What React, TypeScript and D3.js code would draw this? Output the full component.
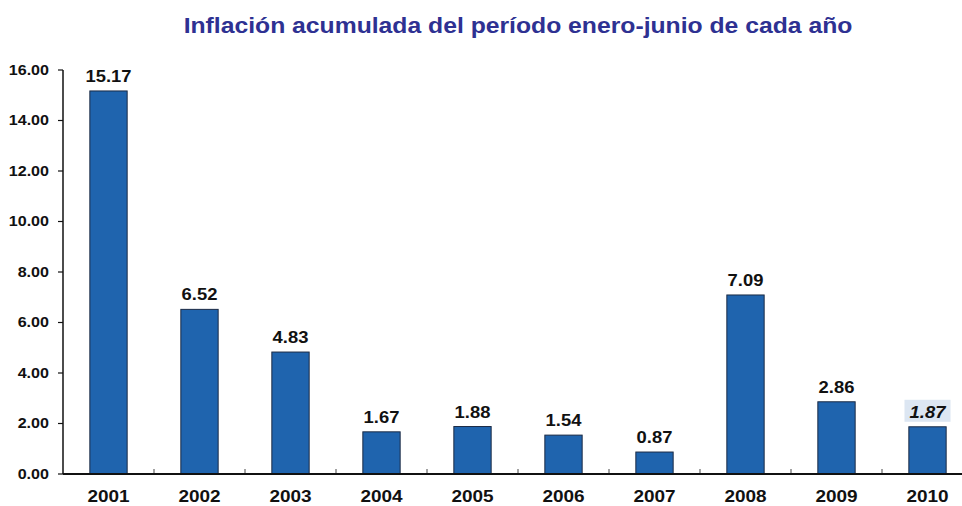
import React from "react";
import * as d3 from "d3";

const categories = ["2001", "2002", "2003", "2004", "2005", "2006", "2007", "2008", "2009", "2010"];
const values = [15.17, 6.52, 4.83, 1.67, 1.88, 1.54, 0.87, 7.09, 2.86, 1.87];
const yTicks = [0, 2, 4, 6, 8, 10, 12, 14, 16];
const title = "Inflación acumulada del período enero-junio de cada año";

const SX = 1.15;

function T(props: { x: number; y: number; anchor: string; size: number; italic?: boolean; fill?: string; children: React.ReactNode }) {
  return (
    <text
      transform={`translate(${props.x},${props.y}) scale(${SX},1)`}
      textAnchor={props.anchor}
      fontSize={props.size}
      fontWeight="bold"
      fontStyle={props.italic ? "italic" : "normal"}
      fill={props.fill || "#111"}
    >
      {props.children}
    </text>
  );
}

export default function App() {
  const W = 962, H = 506;
  const x0 = 63, x1 = 973, yTop = 70, yBot = 474;
  const x = d3.scaleBand<string>().domain(categories).range([x0, x1]).paddingInner(0.59).paddingOuter(0.295);
  const y = d3.scaleLinear().domain([0, 16]).range([yBot, yTop]);
  const font = "Arial, 'Liberation Sans', sans-serif";
  const step = x.step();
  return (
    <svg width={W} height={H} style={{ position: "absolute", left: 0, top: 0 }} fontFamily={font}>
      <rect width={W} height={H} fill="#fff" />
      <T x={518} y={33} anchor="middle" size={21.5} fill="#2E3192">{title}</T>
      {categories.map((c, i) => {
        const v = values[i];
        const bx = x(c)!;
        const bw = x.bandwidth();
        const last = i === categories.length - 1;
        return (
          <g key={c}>
            <rect x={bx} y={y(v)} width={bw} height={yBot - y(v)} fill="#1F64AE" stroke="#1a2a44" strokeWidth={1} />
            {last && (
              <rect x={bx + bw / 2 - 23} y={y(v) - 27} width={46} height={22} fill="#DCE6F2" />
            )}
            <T x={bx + bw / 2} y={y(v) - 9} anchor="middle" size={16} italic={last}>
              {v.toFixed(2)}
            </T>
            <T x={bx + bw / 2} y={501.5} anchor="middle" size={16.5}>{c}</T>
          </g>
        );
      })}
      {categories.map((c, i) => (
        <line key={"t" + c} x1={x0 + step * (i + 1)} x2={x0 + step * (i + 1)} y1={yBot} y2={yBot - 5} stroke="#666" strokeWidth={1.2} />
      ))}
      <line x1={x0} x2={W} y1={yBot} y2={yBot} stroke="#111" strokeWidth={2} />
      <line x1={x0} x2={x0} y1={yTop} y2={yBot} stroke="#111" strokeWidth={1.5} />
      {yTicks.map((t) => (
        <g key={t}>
          <line x1={x0 - 5} x2={x0} y1={y(t)} y2={y(t)} stroke="#111" strokeWidth={1.2} />
          <T x={49} y={y(t) + 4.8} anchor="end" size={14}>{t.toFixed(2)}</T>
        </g>
      ))}
    </svg>
  );
}
